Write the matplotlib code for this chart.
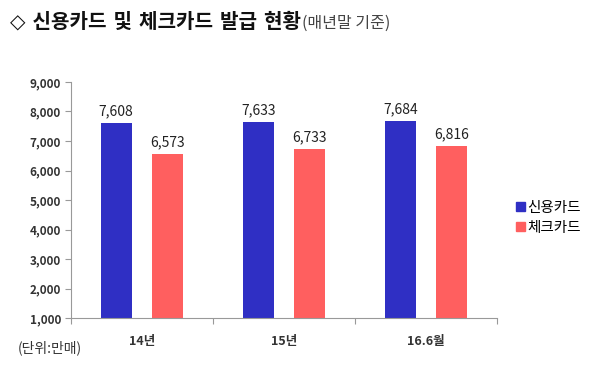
import numpy as np
import matplotlib
matplotlib.use("Agg")
import matplotlib.pyplot as plt
from matplotlib.patches import Patch

plt.rcParams["font.family"] = ["Noto Sans CJK KR", "DejaVu Sans"]

# ── data ──────────────────────────────────────────────────────────────
categories = ["14년", "15년", "16.6월"]
credit     = [7608, 7633, 7684]
check      = [6573, 6733, 6816]
series_names = ["신용카드", "체크카드"]
yticks = [1000, 2000, 3000, 4000, 5000, 6000, 7000, 8000, 9000]

BLUE = "#2F2FC4"
RED  = "#FF5F5F"

fig = plt.figure(figsize=(6.0, 3.66), dpi=100)
ax = fig.add_axes([0.118, 0.131, 0.710, 0.645])

x = np.arange(len(categories))
w = 0.22
off = 0.18
ax.bar(x - off, np.array(credit) - 1000, w, bottom=1000, color=BLUE)
ax.bar(x + off, np.array(check) - 1000, w, bottom=1000, color=RED)

for xi, v in zip(x - off, credit):
    ax.text(xi, v + 160, f"{v:,}", ha="center", va="bottom", fontsize=10, color="#222222")
for xi, v in zip(x + off, check):
    ax.text(xi, v + 160, f"{v:,}", ha="center", va="bottom", fontsize=10, color="#222222")

ax.set_xlim(-0.5, len(categories) - 0.5)
ax.set_ylim(1000, 9000)
ax.set_yticks(yticks)
ax.set_yticklabels([f"{t:,}" for t in yticks], fontsize=8.5, fontweight="bold", color="#333333")
ax.tick_params(axis="y", length=4, color="#999999", pad=3)

ax.set_xticks(np.arange(len(categories) + 1) - 0.5)
ax.set_xticklabels([])
ax.tick_params(axis="x", length=4, color="#999999")
for xi, c in zip(x, categories):
    ax.text(xi, -0.10, c, transform=ax.get_xaxis_transform(), ha="center", va="center",
            fontsize=9, fontweight="bold", color="#333333")

for s in ["top", "right"]:
    ax.spines[s].set_visible(False)
for s in ["left", "bottom"]:
    ax.spines[s].set_color("#999999")
    ax.spines[s].set_linewidth(0.8)

handles = [Patch(color=BLUE), Patch(color=RED)]
fig.legend(handles, series_names, loc="center left", bbox_to_anchor=(0.838, 0.405),
           frameon=False, fontsize=10.5, handlelength=0.6, handleheight=0.6,
           handletextpad=0.2, labelspacing=0.4)

fig.text(0.03, 0.05, "(단위:만매)", fontsize=10, color="#333333", va="center")

fig.text(0.017, 0.94, "◇ 신용카드 및 체크카드 발급 현황", fontsize=14.5, fontweight="bold",
         color="#111111", va="center", family=["DejaVu Sans", "Noto Sans CJK KR"])
t = fig.texts[-1]
fig.canvas.draw()
bb = t.get_window_extent()
fig.text(bb.x1 / fig.bbox.width + 0.002, 0.935, "(매년말 기준)", fontsize=11.5, color="#444444",
         va="center")

fig.savefig("out.png", dpi=100, facecolor="white")
